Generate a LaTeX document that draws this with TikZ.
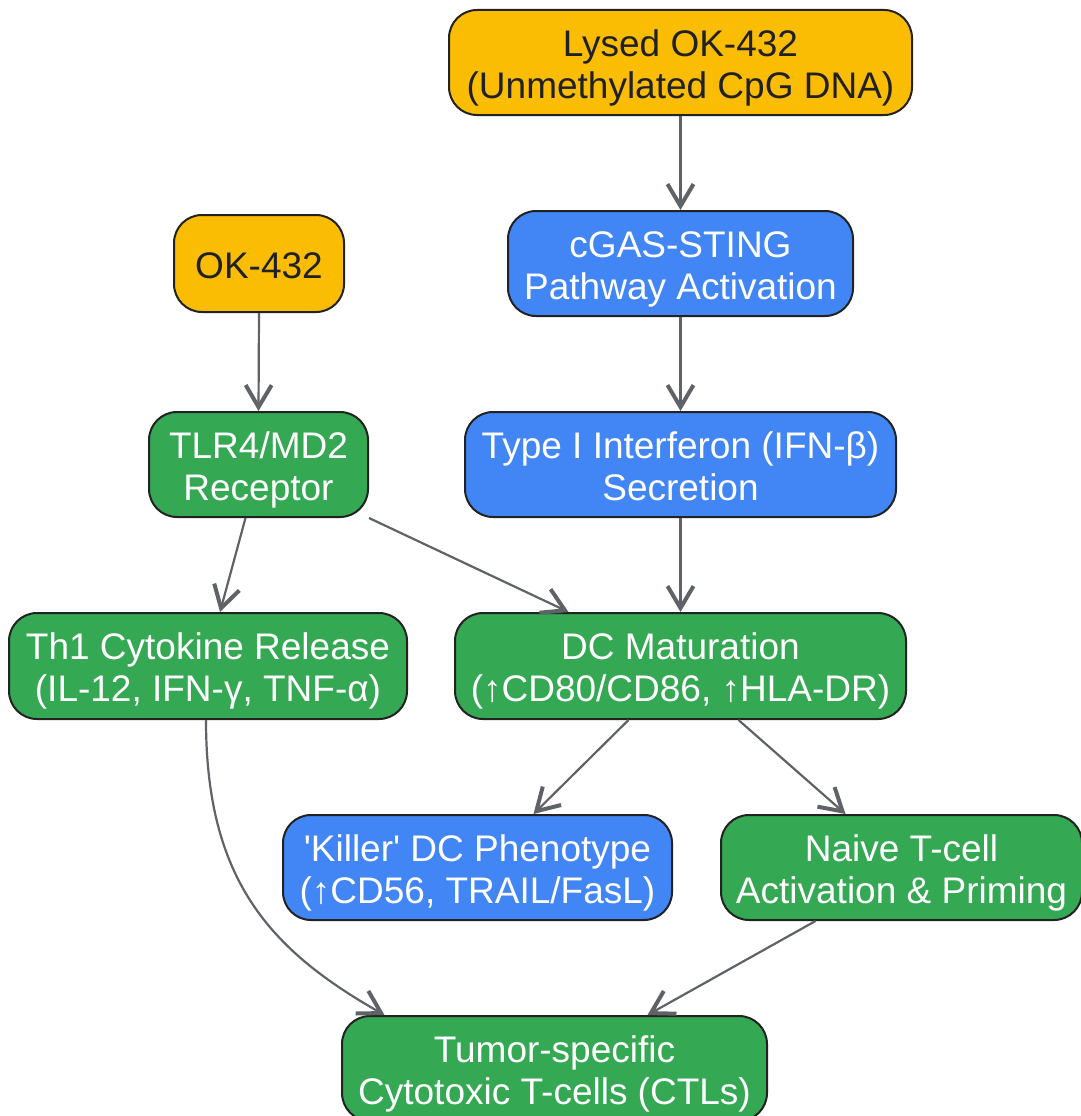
\documentclass[tikz,border=0pt]{standalone}
\usepackage{fontspec}
\setmainfont{Liberation Sans}
\usetikzlibrary{arrows.meta}
\definecolor{yel}{HTML}{FBBC04}
\definecolor{blu}{HTML}{4285F4}
\definecolor{grn}{HTML}{34A853}
\definecolor{edge}{HTML}{5F6368}
\definecolor{bord}{HTML}{222222}
\definecolor{dtext}{HTML}{202124}
\tikzset{
  box/.style={rounded corners=28pt, draw=bord, line width=2pt, align=center, inner sep=0pt,
    font=\fontsize{37}{42}\selectfont, text height=73pt, text depth=2pt},
  ybox/.style={box, fill=yel, text=dtext},
  bbox/.style={box, fill=blu, text=white},
  gbox/.style={box, fill=grn, text=white},
  arr/.style={draw=edge, line width=2.2pt, -{Straight Barb[length=22pt,width=26pt,line width=4pt]}}
}
\begin{document}
\begin{tikzpicture}[x=1pt,y=-1pt]
\useasboundingbox (0,0) rectangle (1080,1116);
\node[ybox, minimum width=463pt, minimum height=105pt] (lys) at (680.5,62.5) {Lysed OK-432\\(Unmethylated CpG DNA)};
\node[bbox, minimum width=345pt, minimum height=105pt] (cgas) at (680.5,263.5) {cGAS-STING\\Pathway Activation};
\node[ybox, minimum width=170pt, minimum height=97pt, text height=33pt, text depth=4pt] (ok) at (259,263.5) {OK-432};
\node[gbox, minimum width=219pt, minimum height=105pt] (tlr) at (258.5,464.5) {TLR4/MD2\\Receptor};
\node[bbox, minimum width=431pt, minimum height=105pt] (ifn) at (680.5,464.5) {Type I Interferon (IFN-β)\\Secretion};
\node[gbox, minimum width=398pt, minimum height=106pt] (th1) at (208,666) {Th1 Cytokine Release\\(IL-12, IFN-γ, TNF-α)};
\node[gbox, minimum width=451pt, minimum height=106pt] (dcm) at (680.5,666) {DC Maturation\\(↑CD80/CD86, ↑HLA-DR)};
\node[bbox, minimum width=389pt, minimum height=105pt] (kil) at (477.5,867.5) {\textquotesingle Killer\textquotesingle{} DC Phenotype\\(↑CD56, TRAIL/FasL)};
\node[gbox, minimum width=361pt, minimum height=105pt] (nai) at (901.5,867.5) {Naive T-cell\\Activation \& Priming};
\node[gbox, minimum width=425pt, minimum height=105pt] (ctl) at (554.5,1068.5) {Tumor-specific\\Cytotoxic T-cells (CTLs)};

\draw[arr] (lys.south) -- (cgas.north);
\draw[arr] (cgas.south) -- (ifn.north);
\draw[arr] (ok.south) -- (tlr.north);
\draw[arr] (ifn.south) -- (dcm.north);
\draw[arr] ([xshift=-13pt]tlr.south) -- ([xshift=12pt]th1.north);
\draw[arr] (tlr.south east) -- ([xshift=-112pt]dcm.north);
\draw[arr] ([xshift=-52pt]dcm.south) -- ([xshift=56pt]kil.north);
\draw[arr] ([xshift=58pt]dcm.south) -- ([xshift=-56pt]nai.north);
\draw[arr] ([xshift=-86pt]nai.south) -- ([xshift=93pt]ctl.north);
\draw[arr] ([xshift=-2pt]th1.south) .. controls (206,880) and (270,950) .. ([xshift=-170pt]ctl.north);
\end{tikzpicture}
\end{document}
